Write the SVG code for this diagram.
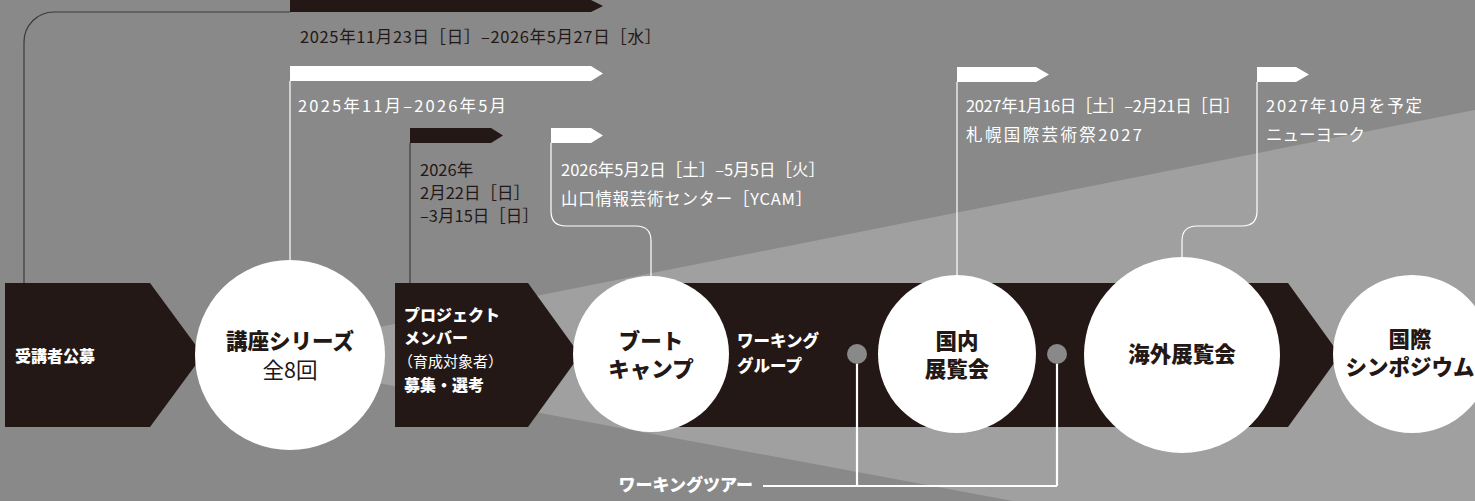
<svg xmlns="http://www.w3.org/2000/svg" width="1475" height="501" viewBox="0 0 1475 501">
<style>
text{font-family:"Noto Sans CJK JP","Noto Sans",sans-serif}
.s{font-size:16.5px}
.d{fill:#231815}
.w{fill:#ffffff}
.b{font-weight:900}
.t{font-size:21.5px;font-weight:900;fill:#231815;text-anchor:middle}
.tr{font-size:21.5px;font-weight:400;fill:#231815;text-anchor:middle}
.m{font-size:16px}
.mr{font-size:15px}
.blk{fill:#231815}
.wl{fill:none;stroke:#ffffff;stroke-width:1.2}
.dl{fill:none;stroke:#3e3a39;stroke-width:1.2}
.wt{fill:none;stroke:#ffffff;stroke-width:2.2}
</style>
<rect x="0" y="0" width="1475" height="501" fill="#898989"/>
<polygon points="233,356 1475,110 1475,501 1013,501" fill="#a0a0a0"/>
<polygon class="blk" points="651,283 1288,283 1340,355 1288,427 651,427"/>

<g id="connectors">
  <path class="dl" d="M290,12 H54 A30,30 0 0 0 24,42 V283"/>
  <path class="wl" d="M290,81 V261"/>
  <path class="dl" d="M410,143 V283"/>
  <path class="wl" d="M551,143 V211 Q551,226 566,226 H636 Q651,226 651,241 V277"/>
  <path class="wl" d="M957,82 V276"/>
  <path class="wl" d="M1257,82 V211 Q1257,226 1242,226 H1197 Q1182,226 1182,241 V258"/>
  <path class="wt" d="M763,486 H1057 M857,354 V486 M1057,354 V486"/>
</g>

<g id="flags">
  <polygon class="blk" points="290,0 591,0 603,6 591,12 290,12"/>
  <polygon fill="#fff" points="290,66 591,66 603,73.5 591,81 290,81"/>
  <polygon class="blk" points="410,128 491,128 503,135.5 491,143 410,143"/>
  <polygon fill="#fff" points="551,128 591,128 603,135.5 591,143 551,143"/>
  <polygon fill="#fff" points="957,67 1036,67 1049,74.5 1036,82 957,82"/>
  <polygon fill="#fff" points="1257,67 1296,67 1309,74.5 1296,82 1257,82"/>
</g>

<g id="labels">
  <text class="s d" x="300" y="43" textLength="361" lengthAdjust="spacing">2025年11月23日［日］–2026年5月27日［水］</text>
  <text class="s w" x="298" y="112" textLength="208" lengthAdjust="spacing">2025年11月–2026年5月</text>
  <text class="s d" x="420" y="176">2026年</text>
  <text class="s d" x="420" y="199">2月22日［日］</text>
  <text class="s d" x="420" y="222">–3月15日［日］</text>
  <text class="s w" x="561" y="176" textLength="264" lengthAdjust="spacing">2026年5月2日［土］–5月5日［火］</text>
  <text class="s w" x="561" y="205" textLength="251" lengthAdjust="spacing">山口情報芸術センター［YCAM］</text>
  <text class="s w" x="966" y="112" textLength="274" lengthAdjust="spacing">2027年1月16日［土］–2月21日［日］</text>
  <text class="s w" x="966" y="141" textLength="176" lengthAdjust="spacing">札幌国際芸術祭2027</text>
  <text class="s w" x="1266" y="112" textLength="156" lengthAdjust="spacing">2027年10月を予定</text>
  <text class="s w" x="1266" y="141">ニューヨーク</text>
</g>

<g id="n1">
  <polygon class="blk" points="5,283 150,283 203,355 150,427 5,427"/>
  <text class="m w b" x="15" y="362">受講者公募</text>
</g>
<g id="n2">
  <circle cx="290" cy="355" r="95" fill="#fff"/>
  <text class="t" x="290" y="349">講座シリーズ</text>
  <text class="tr" x="290" y="378">全8回</text>
</g>
<g id="n3">
  <polygon class="blk" points="395,283 528,283 580,355 528,427 395,427"/>
  <text class="m w b" x="404" y="321">プロジェクト</text>
  <text class="m w b" x="404" y="344">メンバー</text>
  <text class="mr w" x="398" y="367">（育成対象者）</text>
  <text class="m w b" x="404" y="391">募集・選考</text>
</g>
<g id="n4">
  <circle cx="651" cy="354" r="78" fill="#fff"/>
  <text class="t" x="651" y="349">ブート</text>
  <text class="t" x="651" y="377">キャンプ</text>
</g>
<g id="n5">
  <text class="w b" font-size="16.5" x="737" y="347">ワーキング</text>
  <text class="w b" font-size="16.5" x="737" y="372">グループ</text>
</g>
<g id="dots">
  <circle cx="857" cy="354" r="10" fill="#898989"/>
  <circle cx="1057" cy="354" r="10" fill="#898989"/>
</g>
<g id="n6">
  <circle cx="957" cy="354" r="79" fill="#fff"/>
  <text class="t" x="957" y="349">国内</text>
  <text class="t" x="957" y="377">展覧会</text>
</g>
<g id="n7">
  <circle cx="1182" cy="355" r="98" fill="#fff"/>
  <text class="t" x="1182" y="362" font-size="22.5">海外展覧会</text>
</g>
<g id="n8">
  <circle cx="1412" cy="354" r="79" fill="#fff"/>
  <text class="t" x="1410" y="347">国際</text>
  <text class="t" x="1410" y="375">シンポジウム</text>
</g>
<g id="n9">
  <text class="w b" font-size="17" x="753" y="491" text-anchor="end">ワーキングツアー</text>
</g>
</svg>
